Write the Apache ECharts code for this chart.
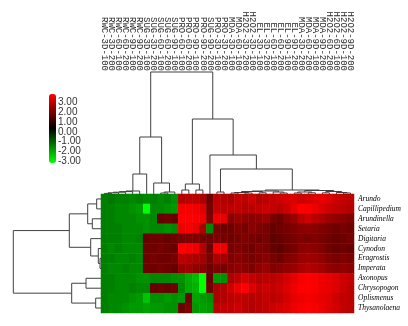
<!DOCTYPE html>
<html>
<head>
<meta charset="utf-8">
<script src="https://cdn.jsdelivr.net/npm/echarts@6/dist/echarts.min.js"></script>
<style>
  html, body { margin: 0; padding: 0; background: #fff; }
  #heat_main { width: 408px; height: 326px; }
</style>
</head>
<body>
<div id="heat_main"></div>
<script>
// column labels (left to right, as ordered by the clustering)
var colLabels = [
    'RWC-3D-100', 'RWC-3D-200', 'RWC-6D-100', 'RWC-6D-200', 'RWC-9D-100', 'RWC-9D-200',
    'SUG-3D-100', 'SUG-3D-200', 'SUG-6D-100', 'SUG-6D-200', 'SUG-9D-100',
    'PRO-6D-100', 'PRO-6D-200', 'PRO-9D-100', 'PRO-9D-200', 'SUG-9D-200',
    'PRO-3D-100', 'PRO-3D-200', 'MDA-3D-100', 'MDA-6D-100', 'H2O2-3D-200', 'H2O2-3D-100',
    'EL-3D-100', 'EL-3D-200', 'EL-6D-100', 'EL-6D-200', 'EL-9D-100', 'EL-9D-200',
    'MDA-3D-200', 'MDA-6D-200', 'MDA-9D-100', 'MDA-9D-200',
    'H2O2-6D-200', 'H2O2-6D-100', 'H2O2-9D-100', 'H2O2-9D-200'
];
// row labels (top to bottom)
var rowLabels = [
    'Arundo', 'Capillipedium', 'Arundinella', 'Setaria', 'Digitaria', 'Cynodon',
    'Eragrostis', 'Imperata', 'Axonopus', 'Chrysopogon', 'Oplismenus', 'Thysanolaena'
];
// values, one array per row
var rowArundo = [-1.5,-1.4,-1.5,-1.5,-1.6,-1.5,-1.6,-1.5,-1.6,-1.5,-1.7, 2.1,2.2,2.2,2.0,1.3,2.2,2.1, 2.0,2.3,2.2,2.4,2.1,2.2, 2.3,2.4,2.5,2.6,2.4,2.5,2.6,2.7,2.6,2.4,2.3,2.2];
var rowCapil  = [-1.5,-1.5,-1.6,-1.6,-1.7,-1.8,-3.0,-1.6,-1.6,-1.7,-1.8, 2.9,2.9,2.8,2.6,1.4,2.3,2.2, 2.2,2.3,2.1,2.2,2.3,2.4, 2.3,2.2,2.4,2.7,3.0,2.9,2.8,2.6,2.4,2.3,2.2,2.1];
var rowArundi = [-1.5,-1.5,-1.6,-1.6,-1.6,-1.7,-1.7,-1.6, 1.2, 1.3, 1.2, 3.0,3.0,2.9,2.8,1.5,2.8,2.7, 1.6,1.8,1.7,1.6,1.7,1.8, 1.4,1.3,1.6,1.8,2.2,2.4,2.2,2.0,1.8,1.7,1.6,1.5];
var rowSetar  = [-1.5,-1.5,-1.5,-1.6,-1.6,-1.6,-1.7,-1.6,-1.6,-1.7,-1.6, 2.8,2.9,2.7,2.0,-1.6,1.4,1.3, 1.3,1.5,1.4,1.6,1.5,1.4, 1.2,1.3,1.4,1.5,1.6,1.7,1.6,1.5,1.4,1.3,1.4,1.3];
var rowDigit  = [-1.5,-1.5,-1.5,-1.6,-1.6,-1.5, 1.2, 1.3, 1.3, 1.2, 1.3, 1.4,1.5,1.5,1.4,1.3,1.5,1.4, 1.3,1.4,1.5,1.4,1.3,1.4, 1.1,1.2,1.3,1.4,1.5,1.4,1.5,1.4,1.3,1.2,1.3,1.4];
var rowCynod  = [-1.5,-1.6,-1.5,-1.6,-1.6,-1.6, 1.3, 1.3, 1.4, 1.3, 1.2, 3.0,2.9,2.8,2.1,1.3,2.9,2.8, 1.4,1.5,1.4,1.3,1.5,1.4, 1.2,1.1,1.3,1.4,1.6,1.7,1.6,1.5,1.3,1.2,1.3,1.2];
var rowErag   = [-1.5,-1.5,-1.6,-1.6,-1.5,-1.6, 1.3, 1.4, 1.3, 1.3, 1.4, 2.2,2.1,2.0,1.9,1.4,2.0,1.9, 1.5,1.6,1.5,1.4,1.5,1.6, 1.4,1.3,1.5,1.6,1.8,1.9,1.8,1.7,1.5,1.4,1.5,1.4];
var rowImper  = [-1.5,-1.6,-1.6,-1.5,-1.6,-1.6, 1.3, 1.3, 1.4, 1.3, 1.2, 1.8,1.9,1.7,1.6,1.3,1.5,1.4, 1.6,1.7,1.6,1.5,1.7,1.8, 1.5,1.6,1.7,1.8,2.0,2.1,2.0,1.9,1.7,1.6,1.7,1.6];
var rowAxono  = [-1.5,-1.5,-1.6,-1.6,-1.6,-1.7,-1.7,-1.6,-1.6,-1.6,-1.7, -1.7,-2.0,-2.2,-3.0,1.2,-1.8,-1.7, 2.0,2.2,2.5,2.3,2.1,2.2, 2.2,2.3,2.5,2.7,2.9,3.0,2.9,2.8,2.7,2.6,2.4,2.3];
var rowChrys  = [-1.5,-1.5,-1.6,-1.6,-1.5,-1.6,-1.6, 1.2, 1.3, 1.2, 1.3, -1.6,-2.0,-2.1,-3.0,1.3,2.0,2.1, 2.4,2.8,3.0,2.6,2.3,2.4, 2.3,2.4,2.6,2.8,3.0,3.0,2.9,2.8,2.7,2.6,2.4,2.2];
var rowOplis  = [-1.5,-1.6,-1.6,-1.6,-1.7,-1.8,-2.3,-1.7,-1.7,-1.8,-1.7, -1.8,1.3,-1.9,-1.8,-1.7,2.0,2.1, 2.2,2.3,2.2,2.1,2.2,2.3, 2.2,2.3,2.5,2.7,2.8,2.9,2.8,2.7,2.6,2.4,2.3,2.2];
var rowThysa  = [-1.5,-1.6,-1.6,-1.7,-1.8,-1.8,-1.9,-1.8,-1.8,-1.7,-1.7, 1.3,1.5,-1.8,-1.9,-1.8,2.2,2.3, 2.3,2.4,2.2,2.1,2.2,2.3, 2.4,2.5,2.6,2.8,2.9,3.0,2.9,2.8,2.6,2.5,2.3,2.2];
var valueRows = [rowArundo, rowCapil, rowArundi, rowSetar, rowDigit, rowCynod,
                 rowErag, rowImper, rowAxono, rowChrys, rowOplis, rowThysa];
// colour key ticks (bottom to top)
var legendTicks = [-3, -2, -1, 0, 1, 2, 3];

// cluster trees: [height, left, right], a bare number is a leaf index
var colTree = [122,
    [57,
        [20, [3, [2.4, [1.8, [1.2, [0.6, 0, 1], 2], 3], 4], 5], 6],
        [11, 7, [2, [1, 8, 9], 10]]],
    [75,
        [10, [4, 11, 12], [4, 13, 14]],
        [39, 15,
            [25, [2, 16, 17],
                [4,
                    [3, [2.5, [1.5, [1, 18, 19], [1, 20, 21]], [1.2, 22, 23]], [2, 24, [1, 25, 26]]],
                    [3.5, [2, [1, 27, 28], [1.2, 29, 30]], [2.5, [1.2, 31, 32], [1.5, 33, [1, 34, 35]]]]]]]]
];
var rowTree = [87.7,
    [31.7, [13.3, [4.3, 0, 1], [8.7, 2, 3]], [10.3, 4, [2.7, 5, [1.0, 6, 7]]]],
    [29.3, [15, 8, 9], [5.3, 10, 11]]
];

// flatten a tree into links [posLeft, hLeft, posRight, hRight, h]
function treeLinks(node, out) {
    if (typeof node === 'number') {
        return { pos: node, h: 0 };
    }
    var a = treeLinks(node[1], out);
    var b = treeLinks(node[2], out);
    out.push([a.pos, a.h, b.pos, b.h, node[0]]);
    return { pos: (a.pos + b.pos) / 2, h: node[0] };
}

var colLinks = [];
treeLinks(colTree, colLinks);
var rowLinks = [];
treeLinks(rowTree, rowLinks);

var heatData = [];
valueRows.forEach(function (row, y) {
    row.forEach(function (v, x) {
        heatData.push([x, y, v]);
    });
});

var lineStyle = { stroke: '#404040', fill: null, lineWidth: 1 };

var myChart = echarts.init(document.getElementById('heat_main'), null, { renderer: 'canvas' });
var option = {
    backgroundColor: '#fff',
    animation: false,
    grid: [
        // heatmap
        { left: 101, top: 194, width: 253, height: 119 },
        // column dendrogram
        { left: 101, top: 72, width: 253, height: 122 },
        // row dendrogram
        { left: 13, top: 194, width: 88, height: 119 },
        // colour key labels
        { left: 49, top: 102.7, width: 7, height: 58.3 }
    ],
    xAxis: [
        {
            gridIndex: 0, type: 'category', data: colLabels, position: 'top',
            axisLine: { show: false }, axisTick: { show: false }, splitLine: { show: false },
            axisLabel: {
                interval: 0, rotate: 90, margin: 123,
                fontFamily: 'Liberation Mono', fontSize: 9, color: '#2a2a2a'
            }
        },
        { gridIndex: 1, type: 'value', min: -0.5, max: 35.5, show: false },
        { gridIndex: 2, type: 'value', min: 0, max: 88, inverse: true, show: false },
        { gridIndex: 3, type: 'value', show: false }
    ],
    yAxis: [
        {
            gridIndex: 0, type: 'category', data: rowLabels, position: 'right', inverse: true,
            axisLine: { show: false }, axisTick: { show: false }, splitLine: { show: false },
            axisLabel: {
                interval: 0, margin: 4,
                fontFamily: 'Liberation Serif', fontStyle: 'italic', fontSize: 7.5, color: '#000'
            }
        },
        { gridIndex: 1, type: 'value', min: 0, max: 122, show: false },
        { gridIndex: 2, type: 'value', min: -0.5, max: 11.5, inverse: true, show: false },
        {
            // colour key tick labels
            gridIndex: 3, type: 'category', position: 'right', boundaryGap: false,
            data: legendTicks.map(function (v) { return v.toFixed(2); }),
            axisLine: { show: false }, axisTick: { show: false }, splitLine: { show: false },
            axisLabel: {
                interval: 0, margin: 2, fontSize: 10, color: '#333',
                fontFamily: '"Liberation Sans Narrow", "Arial Narrow", sans-serif'
            }
        }
    ],
    visualMap: {
        type: 'continuous',
        seriesIndex: 0,
        min: -3, max: 3,
        calculable: false,
        left: 49, top: 94,
        itemWidth: 7, itemHeight: 69,
        padding: 0,
        inRange: { color: ['#00ff00', '#000000', '#ff0000'] }
    },
    series: [
        {
            type: 'heatmap', xAxisIndex: 0, yAxisIndex: 0,
            data: heatData,
            itemStyle: { borderWidth: 0 },
            emphasis: { disabled: true }
        },
        {
            // column dendrogram
            type: 'custom', xAxisIndex: 1, yAxisIndex: 1,
            data: colLinks,
            renderItem: function (params, api) {
                var pts = [
                    api.coord([api.value(0), api.value(1)]),
                    api.coord([api.value(0), api.value(4)]),
                    api.coord([api.value(2), api.value(4)]),
                    api.coord([api.value(2), api.value(3)])
                ];
                return { type: 'polyline', shape: { points: pts }, style: lineStyle };
            }
        },
        {
            // row dendrogram
            type: 'custom', xAxisIndex: 2, yAxisIndex: 2,
            data: rowLinks,
            renderItem: function (params, api) {
                var pts = [
                    api.coord([api.value(1), api.value(0)]),
                    api.coord([api.value(4), api.value(0)]),
                    api.coord([api.value(4), api.value(2)]),
                    api.coord([api.value(3), api.value(2)])
                ];
                return { type: 'polyline', shape: { points: pts }, style: lineStyle };
            }
        }
    ]
};
myChart.setOption(option);
window.addEventListener("resize", function () {
    myChart.resize();
});
</script>
</body>
</html>
